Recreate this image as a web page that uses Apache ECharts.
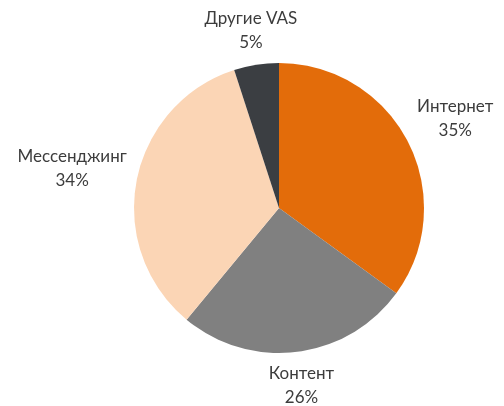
<!DOCTYPE html>
<html>
<head>
<meta charset="utf-8">
<script src="https://cdn.jsdelivr.net/npm/echarts@6/dist/echarts.min.js"></script>
<style>
html, body { margin: 0; padding: 0; background: #fff; }
#main { width: 504px; height: 406px; }
</style>
</head>
<body>
<div id="main"></div>
<script>
const categories = ['Интернет', 'Контент', 'Мессенджинг', 'Другие VAS'];
const shares = [35, 26, 34, 5];
const sliceColors = ['#e36c0a', '#808080', '#fbd5b5', '#3b3e42'];

const pieCenter = [279, 208];
const pieRadius = 145;
const labelGap = 10;

const total = shares.reduce((a, b) => a + b, 0);

// angle (from 12 o'clock, clockwise) of the middle of slice idx
function midAngle(idx) {
  let before = 0;
  for (let i = 0; i < idx; i++) before += shares[i];
  return (before + shares[idx] / 2) / total * Math.PI * 2;
}

const myChart = echarts.init(document.getElementById('main'));

myChart.setOption({
  animation: false,
  series: [
    {
      type: 'pie',
      center: pieCenter,
      radius: pieRadius,
      startAngle: 90,
      clockwise: true,
      avoidLabelOverlap: false,
      label: {
        show: true,
        position: 'outside',
        formatter: '{b}\n{c}%',
        fontFamily: 'Lato',
        fontSize: 17,
        lineHeight: 24,
        color: '#3c3c3c'
      },
      labelLine: { show: false },
      // put each label just outside the slice, centred on the slice's direction
      labelLayout: function(params) {
        const a = midAngle(params.dataIndex)
        const ux = Math.sin(a)
        const uy = -Math.cos(a)
        const hw = params.labelRect.width / 2
        const hh = params.labelRect.height / 2
        const t = Math.min(hw / Math.max(Math.abs(ux), 1e-6), hh / Math.max(Math.abs(uy), 1e-6))
        const d = pieRadius + labelGap + t
        return {
          x: pieCenter[0] + ux * d,
          y: pieCenter[1] + uy * d,
          align: 'center',
          verticalAlign: 'middle'
        }
      },
      emphasis: { disabled: true },
      data: categories.map((name, i) => ({
        name: name,
        value: shares[i],
        itemStyle: { color: sliceColors[i] }
      }))
    }
  ]
});
</script>
</body>
</html>
